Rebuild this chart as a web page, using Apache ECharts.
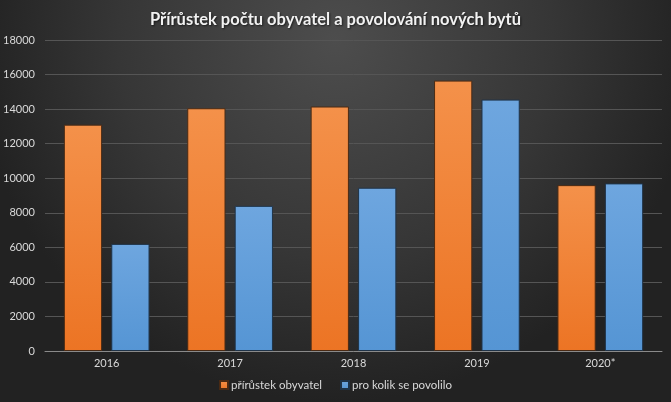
<!DOCTYPE html>
<html><head><meta charset="utf-8">
<script src="https://cdn.jsdelivr.net/npm/echarts@6/dist/echarts.min.js"></script>
<style>html,body{margin:0;padding:0;background:#2b2b2b}#c{width:671px;height:402px}</style>
</head><body><div id="c"></div>
<script>
const categories = ['2016','2017','2018','2019','2020*'];
const prirustek = [13100, 14050, 14150, 15650, 9600];
const povolilo = [6200, 8400, 9450, 14550, 9700];
const seriesNames = ['přírůstek obyvatel', 'pro kolik se povolilo'];
const titleText = 'Přírůstek počtu obyvatel a povolování nových bytů';

const chart = echarts.init(document.getElementById('c'), null, {renderer:'canvas'});
const font = 'Lato, "Open Sans", sans-serif';
chart.setOption({
  backgroundColor: {
    type: 'radial', x: 0.5, y: 0.1, r: 0.9,
    colorStops: [{offset:0,color:'#4d4d4d'},{offset:0.6,color:'#363636'},{offset:1,color:'#222222'}]
  },
  animation: false,
  title: {
    text: titleText, left: 'center', top: 6,
    textStyle: {color:'#f2f2f2', fontSize:16.5, fontWeight:'bold', fontFamily:font,
      textShadowColor:'rgba(0,0,0,0.6)', textShadowBlur:2, textShadowOffsetX:1, textShadowOffsetY:1}
  },
  legend: {
    bottom: 6, left: 'center', itemWidth: 8, itemHeight: 8, itemGap: 18,
    icon: 'rect',
    textStyle: {color:'#d9d9d9', fontSize:11.5, fontFamily:font, padding:[0,0,0,-2]},
    data: seriesNames
  },
  grid: {left: 45, right: 9, top: 40, bottom: 51},
  xAxis: {
    type: 'category', data: categories,
    axisLine: {lineStyle:{color:'#8a8a8a', width:1}},
    axisTick: {show:false},
    axisLabel: {color:'#d9d9d9', fontSize:11, fontFamily:font, margin:7}
  },
  yAxis: {
    type: 'value', min: 0, max: 18000, interval: 2000,
    axisLine: {show:false}, axisTick: {show:false},
    axisLabel: {color:'#d9d9d9', fontSize:11, fontFamily:font, margin:10, formatter: v => String(v)},
    splitLine: {lineStyle:{color:'#555555', width:1}}
  },
  series: [
    {
      name: seriesNames[0], type: 'bar', data: prirustek,
      barWidth: '31%', barGap: '24%',
      itemStyle: {
        color: {type:'linear',x:0,y:0,x2:0,y2:1,colorStops:[{offset:0,color:'#f4914a'},{offset:1,color:'#ec7424'}]},
        borderColor: '#4a2a14', borderWidth: 1
      }
    },
    {
      name: seriesNames[1], type: 'bar', data: povolilo,
      barWidth: '31%',
      itemStyle: {
        color: {type:'linear',x:0,y:0,x2:0,y2:1,colorStops:[{offset:0,color:'#6ea6df'},{offset:1,color:'#5595d4'}]},
        borderColor: '#1f3348', borderWidth: 1
      }
    }
  ]
});
</script></body></html>
